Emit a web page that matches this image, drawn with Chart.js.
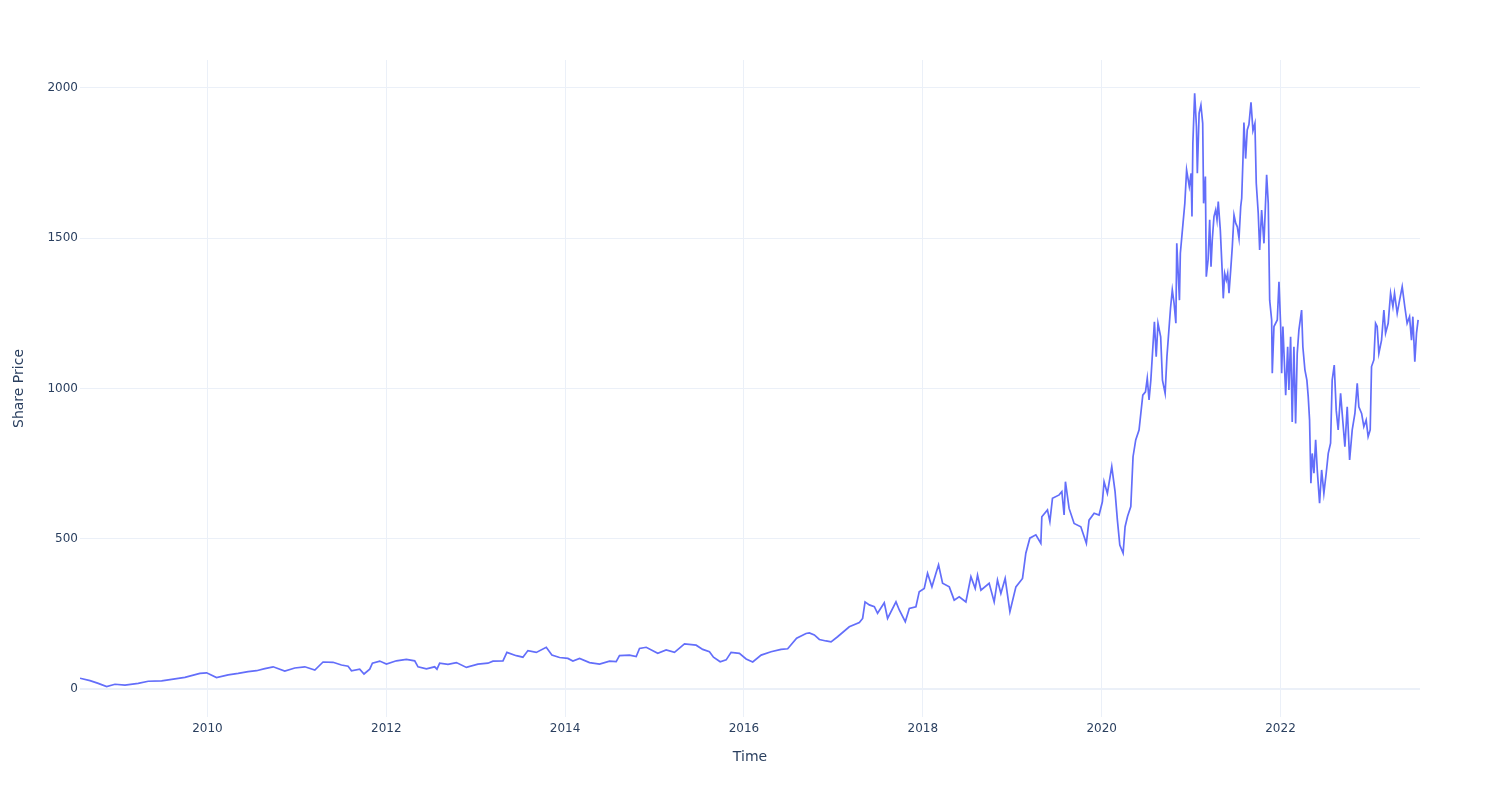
<!DOCTYPE html>
<html lang="en">
<head>
  <meta charset="UTF-8">
  <title>Share Price over Time</title>
  <script src="https://cdn.jsdelivr.net/npm/chart.js"></script>
  <style>
    html, body {
      margin: 0;
      padding: 0;
      background: #fff;
    }
    .chart-box {
      width: 1500px;
      height: 800px;
    }
  </style>
</head>
<body>
<div class="chart-box">
  <canvas id="priceChart" width="1500" height="800"></canvas>
</div>

<script>
  // Time as decimal years
  const years = [
    2008.575, 2008.687, 2008.779, 2008.873, 2008.966, 2009.078, 2009.226, 2009.338, 2009.488, 2009.600,
    2009.748, 2009.916, 2009.991, 2010.102, 2010.232, 2010.344, 2010.455, 2010.549, 2010.642, 2010.735,
    2010.865, 2010.977, 2011.089, 2011.201, 2011.293, 2011.405, 2011.499, 2011.573, 2011.611, 2011.703,
    2011.751, 2011.815, 2011.845, 2011.927, 2012.002, 2012.113, 2012.225, 2012.318, 2012.355, 2012.449,
    2012.541, 2012.567, 2012.597, 2012.690, 2012.784, 2012.896, 2013.025, 2013.137, 2013.193, 2013.305,
    2013.349, 2013.454, 2013.528, 2013.584, 2013.678, 2013.789, 2013.852, 2013.938, 2014.031, 2014.087,
    2014.162, 2014.273, 2014.385, 2014.497, 2014.571, 2014.608, 2014.720, 2014.795, 2014.832, 2014.907,
    2015.036, 2015.130, 2015.223, 2015.335, 2015.465, 2015.539, 2015.614, 2015.659, 2015.734, 2015.801,
    2015.856, 2015.949, 2016.024, 2016.098, 2016.192, 2016.303, 2016.415, 2016.489, 2016.589, 2016.694,
    2016.731, 2016.787, 2016.843, 2016.918, 2016.974, 2017.047, 2017.178, 2017.290, 2017.327, 2017.354,
    2017.402, 2017.458, 2017.494, 2017.569, 2017.606, 2017.700, 2017.737, 2017.804, 2017.849, 2017.923,
    2017.960, 2018.016, 2018.053, 2018.102, 2018.147, 2018.176, 2018.221, 2018.296, 2018.351, 2018.407,
    2018.482, 2018.538, 2018.586, 2018.612, 2018.650, 2018.742, 2018.798, 2018.835, 2018.873, 2018.921,
    2018.974, 2019.041, 2019.115, 2019.152, 2019.197, 2019.264, 2019.320, 2019.331, 2019.394, 2019.421,
    2019.450, 2019.525, 2019.555, 2019.580, 2019.595, 2019.636, 2019.692, 2019.767, 2019.829, 2019.859,
    2019.916, 2019.971, 2020.008, 2020.027, 2020.064, 2020.113, 2020.150, 2020.176, 2020.203, 2020.240,
    2020.262, 2020.290, 2020.326, 2020.351, 2020.381, 2020.418, 2020.460, 2020.490, 2020.510, 2020.530,
    2020.550, 2020.590, 2020.610, 2020.630, 2020.660, 2020.680, 2020.710, 2020.730, 2020.770, 2020.790,
    2020.810, 2020.830, 2020.840, 2020.870, 2020.880, 2020.910, 2020.930, 2020.950, 2020.980, 2021.000,
    2021.010, 2021.020, 2021.040, 2021.060, 2021.070, 2021.090, 2021.110, 2021.130, 2021.140, 2021.160,
    2021.170, 2021.190, 2021.208, 2021.223, 2021.237, 2021.256, 2021.275, 2021.290, 2021.304, 2021.327,
    2021.349, 2021.360, 2021.376, 2021.394, 2021.409, 2021.424, 2021.443, 2021.461, 2021.480, 2021.499,
    2021.517, 2021.536, 2021.555, 2021.566, 2021.580, 2021.591, 2021.610, 2021.628, 2021.647, 2021.670,
    2021.692, 2021.714, 2021.729, 2021.751, 2021.767, 2021.789, 2021.815, 2021.845, 2021.863, 2021.879,
    2021.901, 2021.908, 2021.927, 2021.964, 2021.983, 2022.002, 2022.013, 2022.027, 2022.058, 2022.080,
    2022.094, 2022.113, 2022.131, 2022.150, 2022.169, 2022.187, 2022.206, 2022.236, 2022.250, 2022.273,
    2022.295, 2022.310, 2022.325, 2022.340, 2022.355, 2022.374, 2022.393, 2022.411, 2022.437, 2022.460,
    2022.485, 2022.511, 2022.534, 2022.560, 2022.578, 2022.601, 2022.623, 2022.645, 2022.672, 2022.690,
    2022.720, 2022.746, 2022.773, 2022.802, 2022.832, 2022.858, 2022.876, 2022.907, 2022.932, 2022.958,
    2022.980, 2023.003, 2023.018, 2023.044, 2023.063, 2023.081, 2023.100, 2023.130, 2023.156, 2023.175,
    2023.204, 2023.231, 2023.257, 2023.275, 2023.305, 2023.332, 2023.361, 2023.390, 2023.416, 2023.443,
    2023.465, 2023.480, 2023.502, 2023.521, 2023.539
  ];

  const prices = [
    36, 28, 19, 8, 16, 13, 19, 26, 27, 32,
    39, 52, 54, 38, 47, 52, 58, 61, 68, 74,
    60, 70, 74, 63, 90, 89, 80, 76, 61, 66,
    50, 66, 86, 93, 83, 94, 99, 94, 74, 67,
    74, 66, 86, 82, 88, 72, 83, 86, 93, 94,
    122, 111, 106, 128, 122, 139, 113, 105, 102, 93,
    102, 88, 83, 93, 91, 111, 113, 108, 135, 139,
    119, 130, 122, 150, 146, 132, 124, 106, 91, 97,
    122, 119, 100, 90, 113, 124, 132, 134, 169, 185,
    187, 180, 165, 160, 157, 174, 207, 221, 235, 290,
    280, 274, 252, 287, 235, 290, 263, 224, 268, 274,
    324, 335, 385, 340, 385, 413, 352, 340, 296, 307,
    290, 374, 335, 379, 329, 352, 290, 363, 318, 368,
    257, 340, 368, 452, 502, 513, 485, 573, 596, 557,
    635, 646, 657, 579, 690, 601, 551, 540, 485, 562,
    585, 579, 623, 690, 651, 740, 657, 562, 479, 452,
    540, 575, 607, 773, 829, 862, 978, 989, 1034, 962,
    1028, 1222, 1106, 1217, 1172, 1028, 984, 1106, 1267, 1328,
    1283, 1217, 1483, 1294, 1450, 1550, 1616, 1727, 1672, 1716,
    1572, 1816, 1982, 1871, 1716, 1916, 1943, 1882, 1616, 1705,
    1372, 1428, 1561, 1405, 1494, 1572, 1594, 1561, 1622, 1527,
    1383, 1300, 1383, 1361, 1383, 1317, 1394, 1472, 1577, 1550,
    1538, 1500, 1605, 1633, 1760, 1885, 1765, 1860, 1878, 1952,
    1858, 1882, 1683, 1583, 1461, 1594, 1483, 1711, 1616, 1294,
    1228, 1051, 1206, 1228, 1355, 1206, 1051, 1206, 978, 1139,
    995, 1172, 889, 1139, 884, 1117, 1195, 1261, 1139, 1062,
    1028, 973, 895, 685, 784, 718, 829, 729, 618, 729,
    651, 718, 784, 818, 1028, 1078, 928, 862, 984, 917,
    806, 939, 762, 862, 917, 1017, 939, 917, 873, 895,
    840, 862, 1073, 1095, 1217, 1206, 1117, 1161, 1261, 1184,
    1217, 1317, 1272, 1317, 1250, 1294, 1339, 1272, 1217, 1239,
    1161, 1239, 1089, 1184, 1228
  ];

  const yearTicks = [2010, 2012, 2014, 2016, 2018, 2020, 2022];
  const priceTicks = [0, 500, 1000, 1500, 2000];

  const textColor = '#2a3f5f';
  const gridColor = '#ebf0f8';

  Chart.defaults.font.family = '"DejaVu Sans", verdana, arial, sans-serif';
  Chart.defaults.color = textColor;

  const points = years.map((y, i) => ({ x: y, y: prices[i] }));

  new Chart(document.getElementById('priceChart'), {
    type: 'line',
    data: {
      datasets: [{
        label: 'Share Price',
        data: points,
        borderColor: '#636efa',
        borderWidth: 1.7,
        pointRadius: 0,
        tension: 0,
        fill: false
      }]
    },
    options: {
      responsive: false,
      animation: false,
      layout: {
        padding: { top: 60, right: 80, bottom: 0, left: 0 }
      },
      plugins: {
        legend: { display: false },
        tooltip: { enabled: false }
      },
      scales: {
        x: {
          type: 'linear',
          min: 2008.575,
          max: 2023.56,
          afterBuildTicks: scale => {
            scale.ticks = yearTicks.map(v => ({ value: v }));
          },
          afterFit: scale => { scale.height = 83; },
          ticks: {
            padding: 5,
            font: { size: 12 },
            color: textColor,
            callback: v => String(v)
          },
          grid: {
            color: gridColor,
            lineWidth: 1,
            drawTicks: false
          },
          border: { display: false },
          title: {
            display: true,
            text: 'Time',
            color: textColor,
            font: { size: 14 },
            padding: { top: 0, bottom: 34.6 }
          }
        },
        y: {
          min: -93,
          max: 2093,
          afterBuildTicks: scale => {
            scale.ticks = priceTicks.map(v => ({ value: v }));
          },
          afterFit: scale => { scale.width = 80; },
          ticks: {
            padding: 2,
            font: { size: 12 },
            color: textColor,
            callback: v => String(v)
          },
          grid: {
            color: gridColor,
            lineWidth: ctx => (ctx.tick && ctx.tick.value === 0 ? 2 : 1),
            drawTicks: false
          },
          border: { display: false },
          title: {
            display: true,
            text: 'Share Price',
            color: textColor,
            font: { size: 14 },
            padding: { top: 10.6, bottom: 0 }
          }
        }
      }
    }
  });
</script>
</body>
</html>
